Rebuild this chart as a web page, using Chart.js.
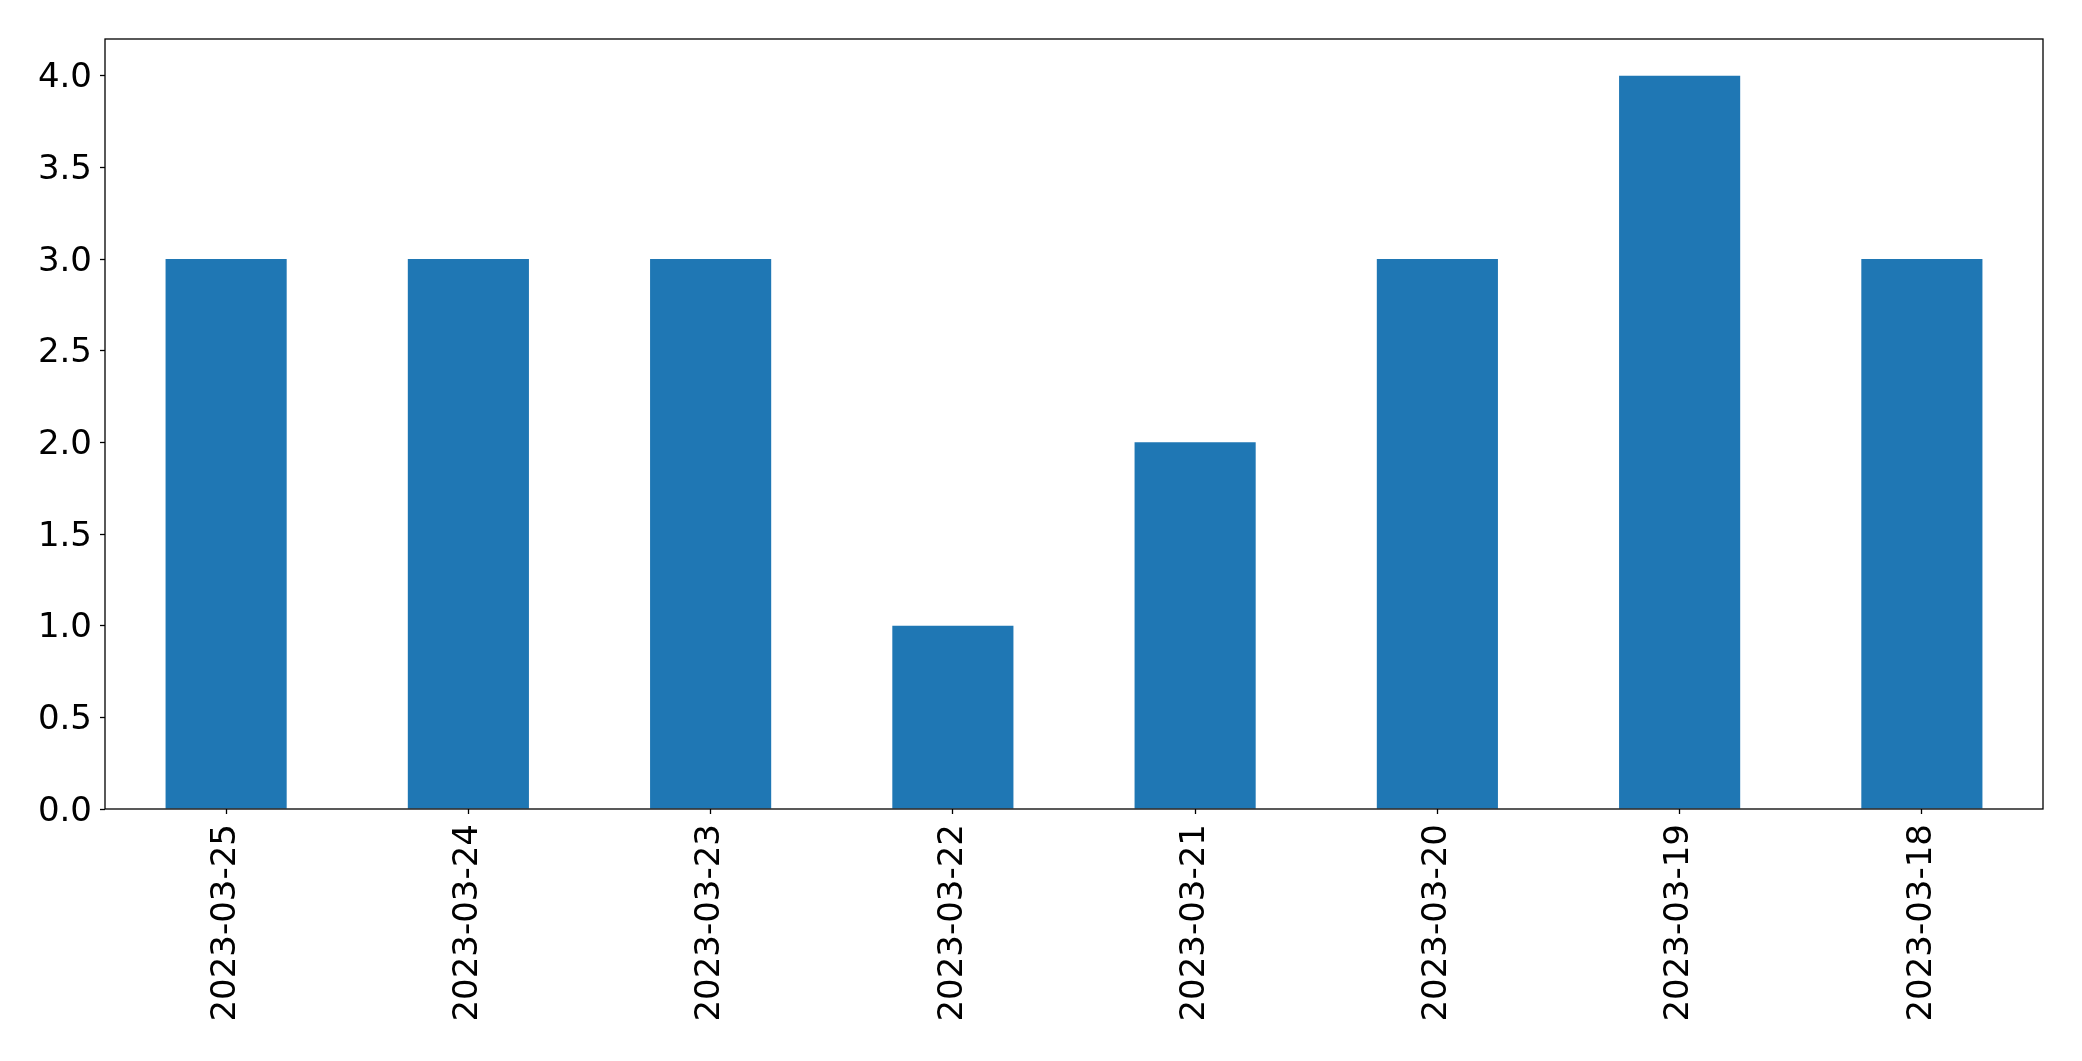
<!DOCTYPE html>
<html>
<head>
<meta charset="utf-8">
<script src="https://cdn.jsdelivr.net/npm/chart.js@4"></script>
<style>
  html, body { margin: 0; padding: 0; background: #fff; }
  #wrap { width: 2082px; height: 1061px; position: relative; }
</style>
</head>
<body>
<div id="wrap"><canvas id="chart"></canvas></div>
<script>
// data
const dates = ['2023-03-25', '2023-03-24', '2023-03-23', '2023-03-22',
               '2023-03-21', '2023-03-20', '2023-03-19', '2023-03-18'];
const counts = [3, 3, 3, 1, 2, 3, 4, 3];
const yTicks = [0, 0.5, 1, 1.5, 2, 2.5, 3, 3.5, 4];

const tickFont = { family: 'DejaVu Sans', size: 34 };

// box around the plot area, like matplotlib's spines
const frame = {
    id: 'frame',
    afterDatasetsDraw(chart) {
        const a = chart.chartArea;
        const ctx = chart.ctx;
        ctx.save();
        ctx.strokeStyle = '#000';
        ctx.lineWidth = 1.3;
        ctx.strokeRect(a.left, a.top, a.right - a.left, a.bottom - a.top);
        ctx.restore();
    }
};

new Chart(document.getElementById('chart'), {
    type: 'bar',
    data: {
        labels: dates,
        datasets: [{
            data: counts,
            backgroundColor: '#1f77b4',
            borderWidth: 0,
            categoryPercentage: 1.0,
            barPercentage: 0.5
        }]
    },
    options: {
        responsive: true,
        maintainAspectRatio: false,
        animation: false,
        layout: { padding: { top: 39, right: 39, left: 0, bottom: 0 } },
        plugins: {
            legend: { display: false },
            tooltip: { enabled: false }
        },
        scales: {
            x: {
                offset: true,
                grid: {
                    display: true,
                    offset: false,
                    drawOnChartArea: false,
                    drawTicks: true,
                    tickLength: 5,
                    tickWidth: 1.3,
                    tickColor: '#000'
                },
                border: { display: false },
                ticks: {
                    color: '#000',
                    font: tickFont,
                    autoSkip: false,
                    minRotation: 90,
                    maxRotation: 90,
                    padding: 10
                },
                afterFit(scale) { scale.height = 252; }
            },
            y: {
                min: 0,
                max: 4.2,
                grid: {
                    display: true,
                    drawOnChartArea: false,
                    drawTicks: true,
                    tickLength: 5,
                    tickWidth: 1.3,
                    tickColor: '#000'
                },
                border: { display: false },
                ticks: {
                    color: '#000',
                    font: tickFont,
                    padding: 8,
                    labelOffset: 3,
                    callback: (v) => Number(v).toFixed(1)
                },
                afterBuildTicks(scale) {
                    scale.ticks = yTicks.map(v => ({ value: v }));
                },
                afterFit(scale) { scale.width = 105; }
            }
        }
    },
    plugins: [frame]
});
</script>
</body>
</html>
